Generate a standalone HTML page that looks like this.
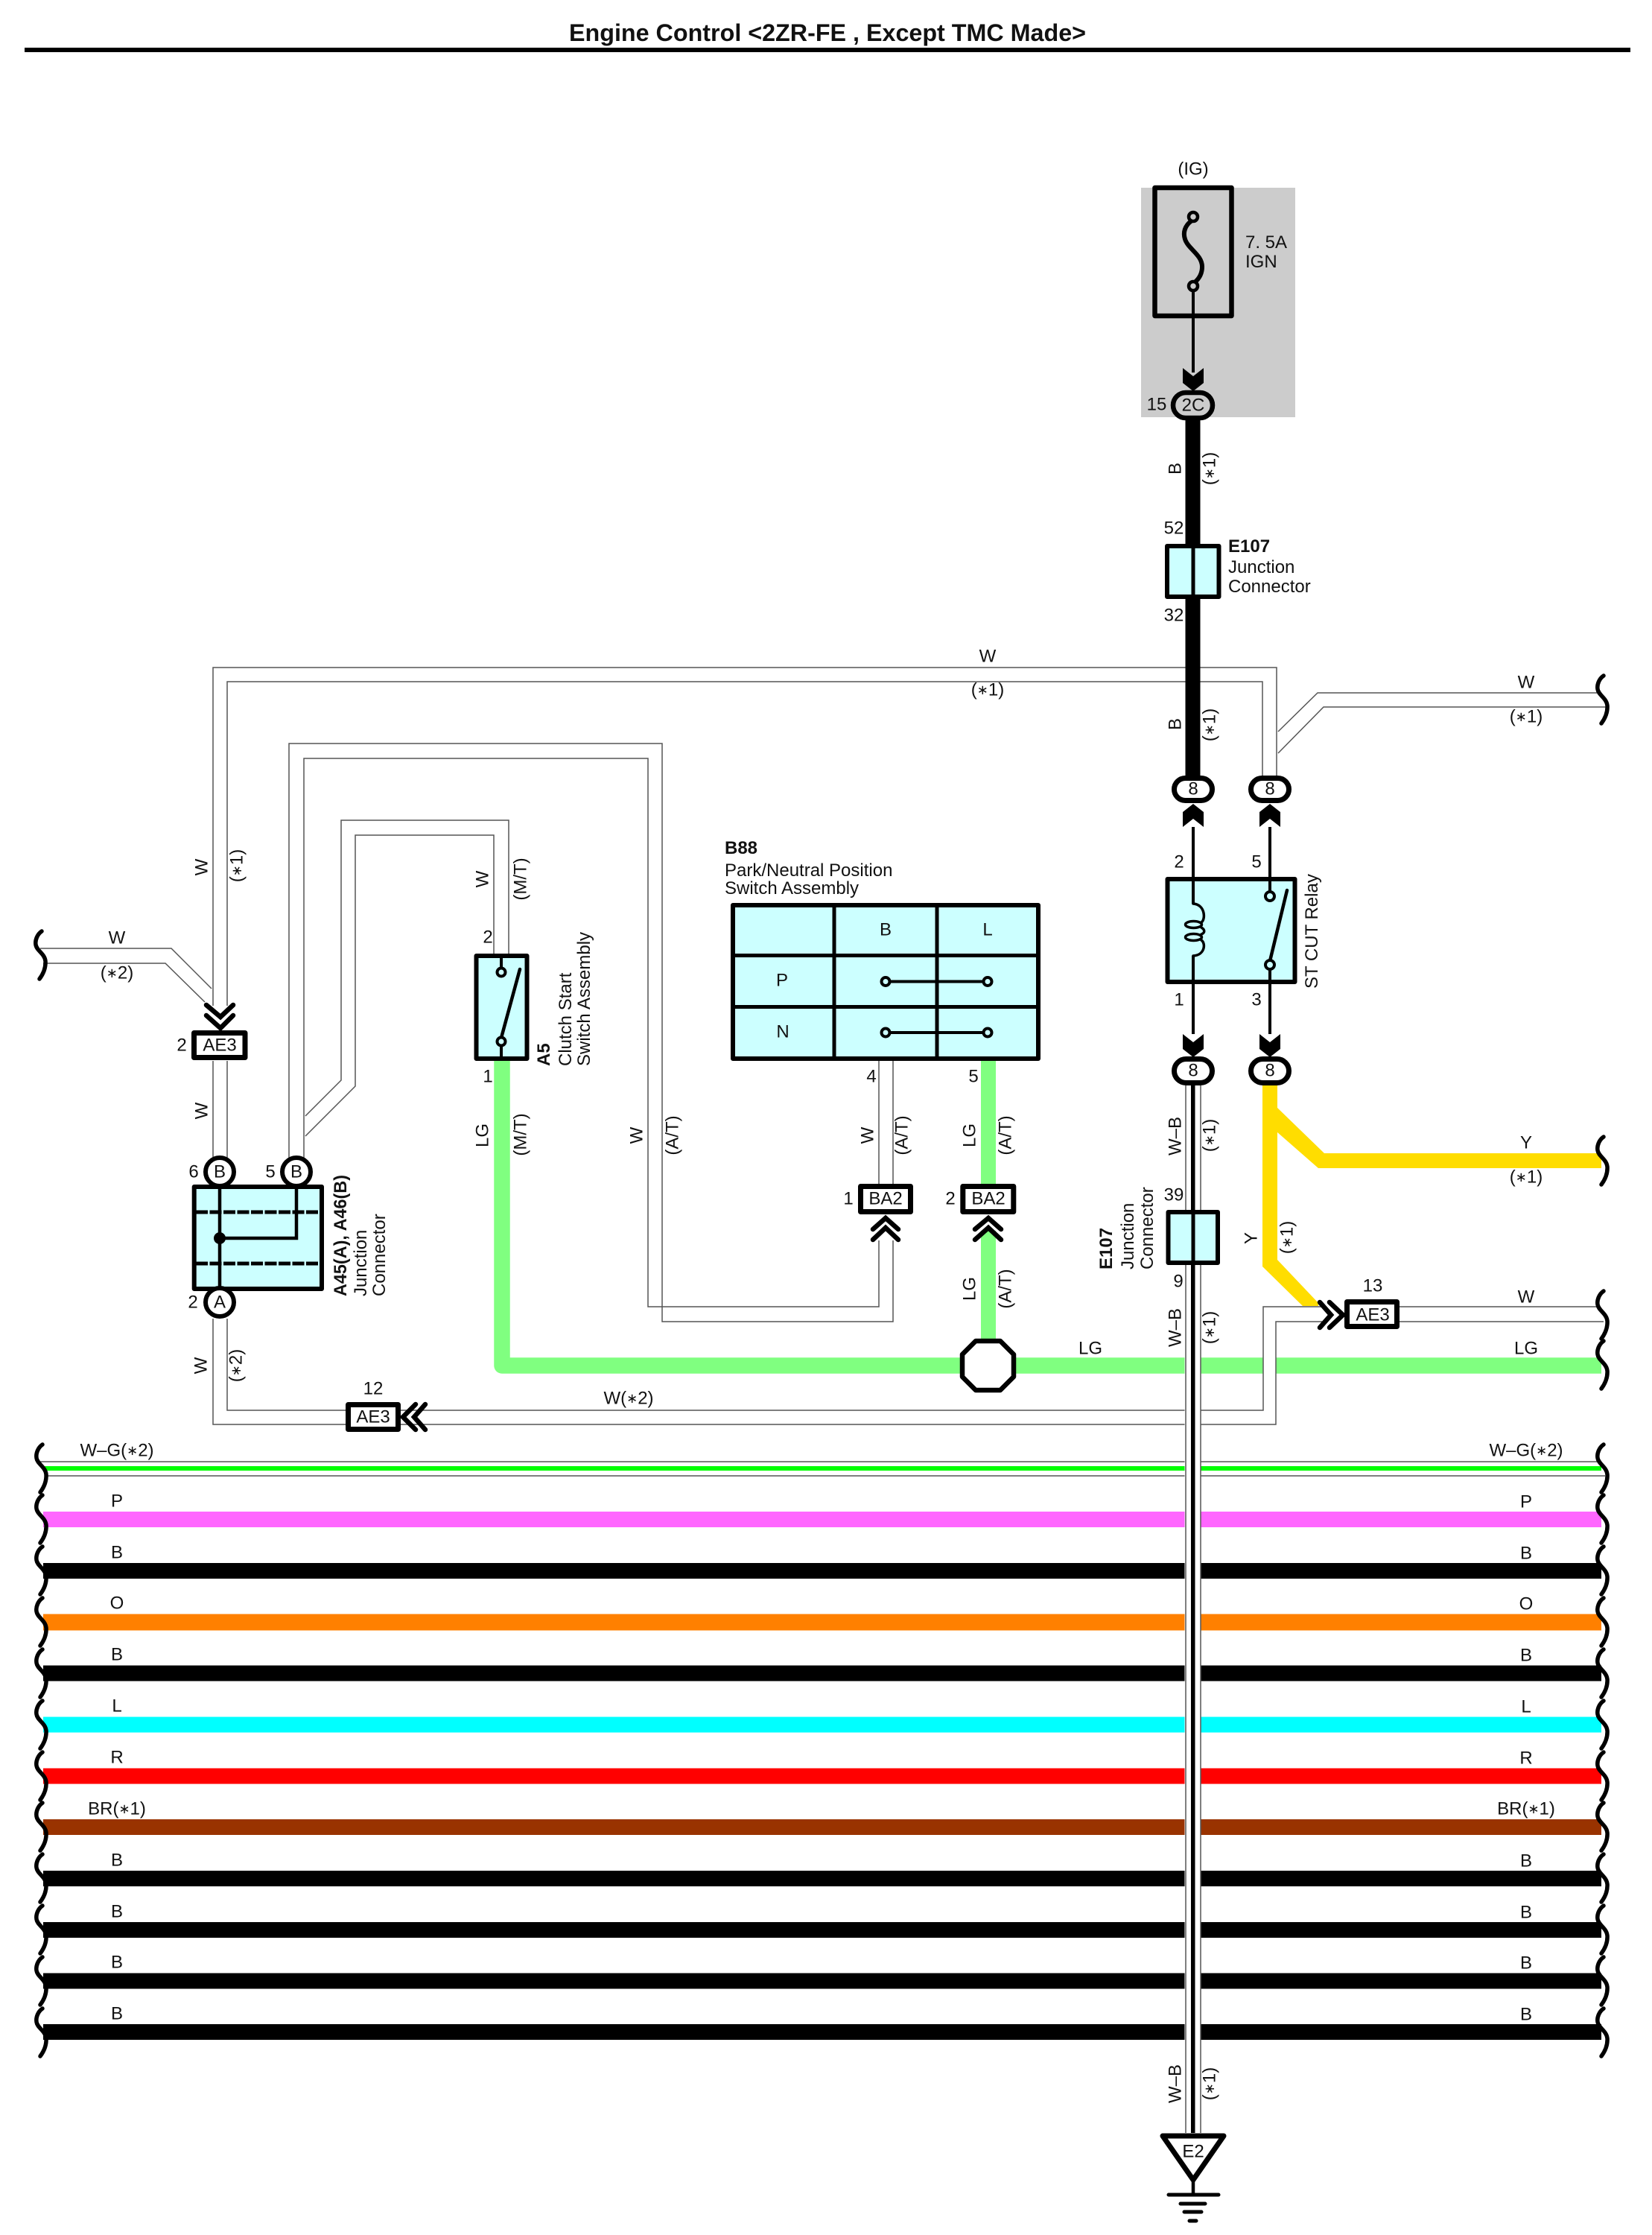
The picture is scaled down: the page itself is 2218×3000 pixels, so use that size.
<!DOCTYPE html>
<html><head><meta charset="utf-8"><title>Engine Control</title>
<style>
html,body{margin:0;padding:0;background:#fff}
svg{display:block}
text{font-family:"Liberation Sans",sans-serif;font-size:24px;fill:#111}
.c{text-anchor:middle;dominant-baseline:central}
.b{font-weight:bold}
.s{font-size:18px}
.w{fill:none;stroke:#555;stroke-width:1.5}
.k{fill:none;stroke:#000;stroke-linecap:round;stroke-linejoin:round}
.box{fill:#ccffff;stroke:#000;stroke-width:6;stroke-linejoin:round}
.lab{fill:#fff;stroke:#000;stroke-width:7;stroke-linejoin:round}
.chev{fill:none;stroke:#000;stroke-width:6.500;stroke-linecap:round;stroke-linejoin:miter}
</style></head><body>
<svg xmlns="http://www.w3.org/2000/svg" width="2218" height="3000" viewBox="0 0 2218 3000">
<defs>
<path id="sq" d="M0 0C-6 4 -9 12 -8 18C-7 26 4 30 5 40C5.500 48 3 56 -3 64" fill="none" stroke="#000" stroke-width="5.500" stroke-linecap="round"/>
<polygon id="ad" points="0,0 -14,-11 -14,-31 0,-20 14,-31 14,-11" fill="#000"/>
<polygon id="au" points="0,0 -14,11 -14,31 0,20 14,31 14,11" fill="#000"/>
</defs>
<rect width="2218" height="3000" fill="#fff"/>

<text class="c b" x="1111" y="44" style="font-size:32px" textLength="694" lengthAdjust="spacingAndGlyphs">Engine Control &lt;2ZR-FE , Except TMC Made&gt;</text>
<rect x="33" y="64" width="2156" height="6" fill="#000"/>

<!-- fuse -->
<rect x="1532" y="252" width="207" height="308" fill="#ccc"/>
<rect x="1550.500" y="252" width="103" height="172" fill="none" stroke="#000" stroke-width="6.500" stroke-linejoin="round"/>
<path class="k" stroke-width="6" d="M1599 297C1591 303 1588 312 1591 321C1595 334 1614 342 1614 358C1614 367 1610 374 1604 379"/>
<circle cx="1602" cy="291" r="6" fill="#ccc" stroke="#000" stroke-width="4.500"/>
<circle cx="1602" cy="384" r="6" fill="#ccc" stroke="#000" stroke-width="4.500"/>
<rect x="1600" y="390" width="4" height="110" fill="#000"/>
<use href="#ad" x="1602" y="525"/>
<text class="c" x="1602" y="227">(IG)</text>
<text x="1672" y="333">7. 5A</text>
<text x="1672" y="359">IGN</text>
<text class="c" x="1553" y="543">15</text>

<!-- W long wires -->
<path class="w" d="M286 1350V896H1714V1041"/>
<path class="w" d="M305 1350V915H1695V1041"/>
<path class="w" d="M1716 982L1769 930H2146"/>
<path class="w" d="M1716 1011L1777 949H2158"/>
<path class="w" d="M54 1273H230L284 1327"/>
<path class="w" d="M58 1293H222L275 1345"/>
<path class="w" d="M286 1424V1555M305 1424V1555"/>
<path class="w" d="M388 1555V998H889V1774H1199V1665"/>
<path class="w" d="M408 1555V1018H870V1754H1180V1665"/>
<path class="w" d="M1180 1424V1591M1199 1424V1591"/>
<path class="w" d="M410 1498L458 1450V1101H683V1280"/>
<path class="w" d="M410 1525L477 1458V1121H663V1280"/>

<!-- buses -->
<path class="w" d="M53 1962H2146M61 1981H2155"/>
<rect x="57" y="1968" width="2093" height="6" fill="#00ff00"/>
<rect x="58" y="2029" width="2092" height="21" fill="#ff66ff"/>
<rect x="58" y="2098" width="2092" height="21" fill="#000"/>
<rect x="58" y="2166.500" width="2092" height="22" fill="#ff8000"/>
<rect x="58" y="2235.500" width="2092" height="21" fill="#000"/>
<rect x="58" y="2304.500" width="2092" height="21" fill="#00ffff"/>
<rect x="58" y="2373.500" width="2092" height="21" fill="#ff0000"/>
<rect x="58" y="2442" width="2092" height="21" fill="#993300"/>
<rect x="58" y="2511" width="2092" height="21" fill="#000"/>
<rect x="58" y="2580" width="2092" height="21" fill="#000"/>
<rect x="58" y="2648.500" width="2092" height="21" fill="#000"/>
<rect x="58" y="2717" width="2092" height="21" fill="#000"/>

<!-- LG wire -->
<path d="M674 1424V1833H2150" fill="none" stroke="#80ff80" stroke-width="21.500" stroke-linejoin="round"/>
<rect x="1696" y="1820" width="17" height="26" fill="#fff"/>
<rect x="1317" y="1424" width="20" height="167" fill="#80ff80"/>
<rect x="1317" y="1652" width="20" height="148" fill="#80ff80"/>

<!-- W(*2) lower wires -->
<path class="w" d="M305 1770V1893H1696V1754H1775"/>
<path class="w" d="M286 1770V1912H1713V1774H1775"/>
<path class="w" d="M1879 1754H2145M1879 1774H2153"/>

<!-- W-B band -->
<rect x="1590.500" y="1457" width="22" height="1406" fill="#fff"/>
<path class="w" d="M1592 1457V2863M1612 1457V2863"/>
<rect x="1599" y="1457" width="5.500" height="1406" fill="#000"/>

<!-- Y wire -->
<polygon points="1695,1457 1715,1457 1715,1691 1770,1749 1770,1753 1749,1753 1695,1700" fill="#ffdd00"/>
<polygon points="1714,1486 1778,1548 2150,1548 2150,1568 1770,1568 1714,1519" fill="#ffdd00"/>

<!-- thick B wire -->
<rect x="1591.500" y="560" width="20" height="485" fill="#000"/>

<!-- squiggles -->
<use href="#sq" x="2153" y="907"/><use href="#sq" x="56" y="1250"/>
<use href="#sq" x="2153" y="1526"/><use href="#sq" x="2153" y="1733"/><use href="#sq" x="2153" y="1800"/>
<use href="#sq" x="57" y="1939"/><use href="#sq" x="2153" y="1939"/>
<use href="#sq" x="57" y="2007"/><use href="#sq" x="2153" y="2007"/>
<use href="#sq" x="57" y="2076"/><use href="#sq" x="2153" y="2076"/>
<use href="#sq" x="57" y="2145"/><use href="#sq" x="2153" y="2145"/>
<use href="#sq" x="57" y="2214"/><use href="#sq" x="2153" y="2214"/>
<use href="#sq" x="57" y="2283"/><use href="#sq" x="2153" y="2283"/>
<use href="#sq" x="57" y="2352"/><use href="#sq" x="2153" y="2352"/>
<use href="#sq" x="57" y="2420"/><use href="#sq" x="2153" y="2420"/>
<use href="#sq" x="57" y="2489"/><use href="#sq" x="2153" y="2489"/>
<use href="#sq" x="57" y="2558"/><use href="#sq" x="2153" y="2558"/>
<use href="#sq" x="57" y="2627"/><use href="#sq" x="2153" y="2627"/>
<use href="#sq" x="57" y="2696"/><use href="#sq" x="2153" y="2696"/>

<!-- ovals -->
<rect x="1575" y="527" width="53" height="34" rx="17" fill="#fff" fill-opacity="0" stroke="#000" stroke-width="6.500"/>
<text class="c" x="1602" y="544">2C</text>
<rect x="1576.500" y="1044.500" width="51" height="30" rx="15" fill="#fff" stroke="#000" stroke-width="7"/>
<rect x="1679.500" y="1044.500" width="51" height="30" rx="15" fill="#fff" stroke="#000" stroke-width="7"/>
<text class="c" x="1602" y="1059">8</text><text class="c" x="1705" y="1059">8</text>
<rect x="1576.500" y="1421.500" width="51" height="32" rx="16" fill="#fff" stroke="#000" stroke-width="7"/>
<rect x="1679.500" y="1421.500" width="51" height="32" rx="16" fill="#fff" stroke="#000" stroke-width="7"/>
<text class="c" x="1602" y="1437">8</text><text class="c" x="1705" y="1437">8</text>
<use href="#au" x="1602" y="1079"/><use href="#au" x="1705" y="1079"/>
<use href="#ad" x="1602" y="1419"/><use href="#ad" x="1705" y="1419"/>

<!-- E107 top -->
<rect x="1567" y="733" width="69.500" height="68" class="box"/>
<rect x="1599.500" y="733" width="5" height="68" fill="#000"/>
<text class="c" x="1576" y="709">52</text><text class="c" x="1576" y="826">32</text>
<text x="1649" y="741" class="b">E107</text>
<text x="1649" y="769">Junction</text>
<text x="1649" y="795">Connector</text>

<!-- Relay -->
<rect x="1567.500" y="1180" width="171" height="138" class="box"/>
<rect x="1600" y="1110" width="4" height="103" fill="#000"/>
<rect x="1600" y="1283" width="4" height="105" fill="#000"/>
<rect x="1703" y="1110" width="4" height="88" fill="#000"/>
<rect x="1703" y="1300" width="4" height="88" fill="#000"/>
<path class="k" stroke-width="3.500" d="M1602 1213C1618 1214 1619 1234 1613 1238M1613 1245C1618 1248 1618 1252 1613 1254M1613 1262C1619 1266 1618 1282 1602 1283"/>
<ellipse cx="1602.500" cy="1241" rx="11" ry="4.500" fill="none" stroke="#000" stroke-width="3.500"/>
<ellipse cx="1602.500" cy="1258" rx="11" ry="4.500" fill="none" stroke="#000" stroke-width="3.500"/>
<path class="k" stroke-width="4.500" d="M1705 1290L1728 1195"/>
<circle cx="1705" cy="1203" r="6" fill="#ccffff" stroke="#000" stroke-width="4"/>
<circle cx="1705" cy="1295" r="6" fill="#ccffff" stroke="#000" stroke-width="4"/>
<text class="c" x="1583" y="1157">2</text><text class="c" x="1687" y="1157">5</text>
<text class="c" x="1583" y="1342">1</text><text class="c" x="1687" y="1342">3</text>
<text transform="translate(1769 1327) rotate(-90)">ST CUT Relay</text>

<!-- E107 lower -->
<rect x="1568.500" y="1627" width="66.500" height="68" class="box"/>
<rect x="1599.500" y="1627" width="5" height="68" fill="#000"/>
<text class="c" x="1576" y="1604">39</text><text class="c" x="1582" y="1720">9</text>
<text class="b" transform="translate(1493 1704) rotate(-90)">E107</text>
<text transform="translate(1522 1704) rotate(-90)">Junction</text>
<text transform="translate(1548 1704) rotate(-90)">Connector</text>

<!-- B88 -->
<text x="973" y="1146" class="b">B88</text>
<text x="973" y="1176">Park/Neutral Position</text>
<text x="973" y="1200">Switch Assembly</text>
<rect x="984" y="1215" width="410" height="206" class="box" stroke-width="6.500"/>
<path d="M1120 1215V1421M1258 1215V1421M984 1282.500H1394M984 1351.500H1394" stroke="#000" stroke-width="5" fill="none"/>
<path d="M1189 1317.500H1326M1189 1386H1326" stroke="#000" stroke-width="4" fill="none"/>
<g fill="#ccffff" stroke="#000" stroke-width="4">
<circle cx="1189" cy="1317.500" r="5.500"/><circle cx="1326" cy="1317.500" r="5.500"/>
<circle cx="1189" cy="1386" r="5.500"/><circle cx="1326" cy="1386" r="5.500"/>
</g>
<text class="c" x="1189" y="1248">B</text><text class="c" x="1326" y="1248">L</text>
<text class="c" x="1050" y="1316">P</text><text class="c" x="1051" y="1385">N</text>
<text class="c" x="1170" y="1445">4</text><text class="c" x="1307" y="1445">5</text>

<!-- BA2 -->
<rect x="1155.500" y="1592.500" width="67" height="34" class="lab"/>
<rect x="1292.800" y="1592.500" width="68" height="34" class="lab"/>
<text class="c" x="1189" y="1609">BA2</text><text class="c" x="1327" y="1609">BA2</text>
<text class="c" x="1139" y="1609">1</text><text class="c" x="1276" y="1609">2</text>
<path class="chev" d="M1172 1650L1189 1635L1206 1650M1172 1664L1189 1648L1206 1664"/>
<path class="chev" d="M1309 1650L1327 1635L1344 1650M1309 1664L1327 1648L1344 1664"/>

<!-- octagon -->
<polygon points="1310,1800 1343,1800 1361,1818 1361,1848 1343,1866 1310,1866 1292,1848 1292,1818" fill="#fff" stroke="#000" stroke-width="6.500" stroke-linejoin="round"/>

<!-- AE3 boxes -->
<rect x="260.500" y="1386.500" width="68.500" height="33" class="lab"/>
<text class="c" x="295" y="1403">AE3</text><text class="c" x="244" y="1403">2</text>
<path class="chev" d="M277 1349L296 1365L313 1349M277 1363L296 1380L313 1363"/>
<rect x="467.500" y="1885.500" width="67" height="33" class="lab"/>
<text class="c" x="501" y="1902">AE3</text><text class="c" x="501" y="1864">12</text>
<path class="chev" d="M571 1885L556 1902L571 1919M558 1885L541 1902L558 1919"/>
<rect x="1808.500" y="1747.500" width="67" height="33" class="lab"/>
<text class="c" x="1843" y="1765">AE3</text><text class="c" x="1843" y="1726">13</text>
<path class="chev" d="M1772 1748L1787 1765L1772 1782M1785 1748L1803 1765L1785 1782"/>

<!-- A5 -->
<rect x="639.500" y="1283" width="68" height="138" class="box"/>
<rect x="671" y="1283" width="4" height="18" fill="#000"/>
<rect x="671" y="1403" width="4" height="18" fill="#000"/>
<path class="k" stroke-width="4.500" d="M673 1393L698 1301"/>
<circle cx="673" cy="1305" r="5.500" fill="#ccffff" stroke="#000" stroke-width="4"/>
<circle cx="673" cy="1398" r="5.500" fill="#ccffff" stroke="#000" stroke-width="4"/>
<text class="c" x="655" y="1258">2</text><text class="c" x="655" y="1445">1</text>
<text class="b" transform="translate(738 1431) rotate(-90)">A5</text>
<text transform="translate(767 1431) rotate(-90)">Clutch Start</text>
<text transform="translate(792 1431) rotate(-90)">Switch Assembly</text>

<!-- Junction A45/A46 -->
<rect x="260.700" y="1593" width="171.300" height="137" class="box"/>
<path d="M263 1627H430M263 1696H430" stroke="#000" stroke-width="5" stroke-dasharray="16 2.500" fill="none"/>
<path d="M295 1593V1730M398 1593V1662H295" stroke="#000" stroke-width="4.500" fill="none"/>
<circle cx="295" cy="1662" r="8" fill="#000"/>
<circle cx="295" cy="1573" r="19" fill="#fff" stroke="#000" stroke-width="6"/>
<circle cx="398" cy="1573" r="19" fill="#fff" stroke="#000" stroke-width="6"/>
<circle cx="295" cy="1748" r="19" fill="#fff" stroke="#000" stroke-width="6"/>
<text class="c" x="295" y="1573">B</text><text class="c" x="398" y="1573">B</text><text class="c" x="295" y="1748">A</text>
<text class="c" x="260" y="1573">6</text><text class="c" x="363" y="1573">5</text><text class="c" x="259" y="1748">2</text>
<text class="b" transform="translate(465 1740) rotate(-90)" textLength="163" lengthAdjust="spacingAndGlyphs">A45(A), A46(B)</text>
<text transform="translate(492 1740) rotate(-90)">Junction</text>
<text transform="translate(517 1740) rotate(-90)">Connector</text>

<!-- E2 ground -->
<polygon points="1561,2867 1643,2867 1602,2926" fill="#fff" stroke="#000" stroke-width="7" stroke-linejoin="round"/>
<text class="c" x="1602" y="2888">E2</text>
<path d="M1602 2926V2946" stroke="#000" stroke-width="4.500"/>
<path class="k" stroke-width="5" d="M1569 2946H1636M1585 2958H1618M1590 2969H1613M1597 2981H1606"/>

<!-- wire labels -->
<text class="c" x="1326" y="881">W</text><text class="c" x="1326" y="926">(<tspan class="s">∗</tspan>1)</text>
<text class="c" x="2049" y="916">W</text><text class="c" x="2049" y="962">(<tspan class="s">∗</tspan>1)</text>
<text class="c" x="157" y="1259">W</text><text class="c" x="157" y="1306">(<tspan class="s">∗</tspan>2)</text>
<text class="c" x="844" y="1877">W(<tspan class="s">∗</tspan>2)</text>
<text class="c" x="1464" y="1810">LG</text><text class="c" x="2049" y="1810">LG</text>
<text class="c" x="2049" y="1741">W</text>
<text class="c" x="2049" y="1534">Y</text><text class="c" x="2049" y="1580">(<tspan class="s">∗</tspan>1)</text>

<g>
<text class="c" transform="translate(1578 629) rotate(-90)">B</text>
<text class="c" transform="translate(1624 629) rotate(-90)">(<tspan class="s">∗</tspan>1)</text>
<text class="c" transform="translate(1578 972) rotate(-90)">B</text>
<text class="c" transform="translate(1624 973) rotate(-90)">(<tspan class="s">∗</tspan>1)</text>
<text class="c" transform="translate(271 1164) rotate(-90)">W</text>
<text class="c" transform="translate(318 1162) rotate(-90)">(<tspan class="s">∗</tspan>1)</text>
<text class="c" transform="translate(271 1491) rotate(-90)">W</text>
<text class="c" transform="translate(270 1833) rotate(-90)">W</text>
<text class="c" transform="translate(317 1833) rotate(-90)">(<tspan class="s">∗</tspan>2)</text>
<text class="c" transform="translate(648 1180) rotate(-90)">W</text>
<text class="c" transform="translate(699 1180) rotate(-90)">(M/T)</text>
<text class="c" transform="translate(648 1524) rotate(-90)">LG</text>
<text class="c" transform="translate(699 1523) rotate(-90)">(M/T)</text>
<text class="c" transform="translate(855 1524) rotate(-90)">W</text>
<text class="c" transform="translate(903 1524) rotate(-90)">(A/T)</text>
<text class="c" transform="translate(1165 1524) rotate(-90)">W</text>
<text class="c" transform="translate(1211 1524) rotate(-90)">(A/T)</text>
<text class="c" transform="translate(1302 1524) rotate(-90)">LG</text>
<text class="c" transform="translate(1350 1524) rotate(-90)">(A/T)</text>
<text class="c" transform="translate(1302 1730) rotate(-90)">LG</text>
<text class="c" transform="translate(1350 1730) rotate(-90)">(A/T)</text>
<text class="c" transform="translate(1578 1525) rotate(-90)">W–B</text>
<text class="c" transform="translate(1624 1524) rotate(-90)">(<tspan class="s">∗</tspan>1)</text>
<text class="c" transform="translate(1578 1782) rotate(-90)">W–B</text>
<text class="c" transform="translate(1624 1782) rotate(-90)">(<tspan class="s">∗</tspan>1)</text>
<text class="c" transform="translate(1578 2797) rotate(-90)">W–B</text>
<text class="c" transform="translate(1624 2797) rotate(-90)">(<tspan class="s">∗</tspan>1)</text>
<text class="c" transform="translate(1680 1662) rotate(-90)">Y</text>
<text class="c" transform="translate(1728 1661) rotate(-90)">(<tspan class="s">∗</tspan>1)</text>
</g>

<!-- bus labels -->
<text class="c" x="157" y="1947">W–G(<tspan class="s">∗</tspan>2)</text><text class="c" x="2049" y="1947">W–G(<tspan class="s">∗</tspan>2)</text>
<text class="c" x="157" y="2015">P</text><text class="c" x="2049" y="2016">P</text>
<text class="c" x="157" y="2084">B</text><text class="c" x="2049" y="2085">B</text>
<text class="c" x="157" y="2152">O</text><text class="c" x="2049" y="2153">O</text>
<text class="c" x="157" y="2221">B</text><text class="c" x="2049" y="2222">B</text>
<text class="c" x="157" y="2290">L</text><text class="c" x="2049" y="2291">L</text>
<text class="c" x="157" y="2359">R</text><text class="c" x="2049" y="2360">R</text>
<text class="c" x="157" y="2428">BR(<tspan class="s">∗</tspan>1)</text><text class="c" x="2049" y="2428">BR(<tspan class="s">∗</tspan>1)</text>
<text class="c" x="157" y="2497">B</text><text class="c" x="2049" y="2498">B</text>
<text class="c" x="157" y="2566">B</text><text class="c" x="2049" y="2567">B</text>
<text class="c" x="157" y="2634">B</text><text class="c" x="2049" y="2635">B</text>
<text class="c" x="157" y="2703">B</text><text class="c" x="2049" y="2704">B</text>
</svg>
</body></html>
